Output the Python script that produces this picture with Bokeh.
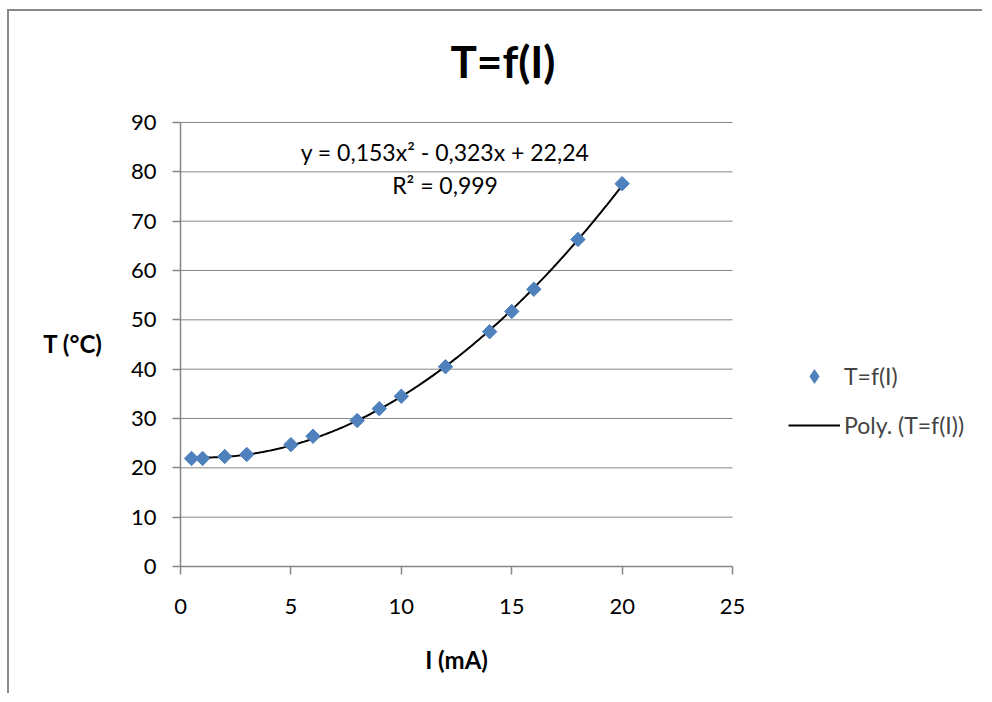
import numpy as np
from bokeh.plotting import figure
from bokeh.models import Range1d, Legend, LegendItem, FixedTicker, Label
from bokeh.embed import file_html
from bokeh.resources import INLINE

# Data
current_mA = [0.5, 1, 2, 3, 5, 6, 8, 9, 10, 12, 14, 15, 16, 18, 20]
temp_C = [21.9, 21.9, 22.3, 22.7, 24.7, 26.4, 29.6, 32.0, 34.5, 40.5, 47.6, 51.7, 56.2, 66.3, 77.6]
x_ticks = [0, 5, 10, 15, 20, 25]
y_ticks = [0, 10, 20, 30, 40, 50, 60, 70, 80, 90]
title_text = "T=f(I)"
x_title = "I (mA)"
y_title = "T (\u00b0C)"
series_name = "T=f(I)"
trend_name = "Poly. (T=f(I))"
eq_text = "y = 0,153x\u00b2 - 0,323x + 22,24"
r2_text = "R\u00b2 = 0,999"

FONT = "Lato"
GRID = "#868686"
BLUE = "#4F81BD"

# Polynomial (order 2) trend line fitted to the data
coef = np.polyfit(current_mA, temp_C, 2)
fit_x = np.linspace(min(current_mA), max(current_mA), 200)
fit_y = np.polyval(coef, fit_x)

# The frame covers the whole chart area so that title, axis titles and legend
# (annotations) are visible; axes sit at x=0 / y=0 and are bounded to the plot area.
p = figure(width=975, height=684, output_backend="svg", toolbar_location=None,
           x_range=Range1d(-7.745, 36.41), y_range=Range1d(-26.15, 112.5),
           min_border_left=0, min_border_right=0, min_border_top=0, min_border_bottom=0)
p.styles = {"border-left": "2px solid #898989", "border-top": "2px solid #898989",
            "margin-left": "7px", "margin-top": "9px"}
p.outline_line_color = None
p.background_fill_color = "white"
p.border_fill_color = "white"

# Axes
for ax in (p.xaxis[0], p.yaxis[0]):
    ax.fixed_location = 0
    ax.axis_line_color = GRID
    ax.axis_line_width = 1.5
    ax.major_tick_line_color = GRID
    ax.major_tick_line_width = 1.5
    ax.major_tick_out = 8
    ax.major_tick_in = 0
    ax.minor_tick_line_color = None
    ax.major_label_text_font = FONT
    ax.major_label_text_font_size = "22px"
    ax.major_label_text_color = "black"

p.xaxis.ticker = FixedTicker(ticks=x_ticks)
p.yaxis.ticker = FixedTicker(ticks=y_ticks)
p.xaxis.bounds = (x_ticks[0], x_ticks[-1])
p.yaxis.bounds = (y_ticks[0], y_ticks[-1])
p.xaxis.major_label_standoff = 25
p.yaxis.major_label_standoff = 16

p.xgrid.grid_line_color = None
p.ygrid.grid_line_color = None

# Horizontal gridlines, limited to the plot area (0-25)
p.segment(x0=x_ticks[0], x1=x_ticks[-1], y0=y_ticks, y1=y_ticks,
          line_color=GRID, line_width=1)

# Trend line and data points
trend = p.line(fit_x, fit_y, line_color="black", line_width=2)
pts = p.scatter(current_mA, temp_C, marker="square", size=10.2, angle=np.pi / 4,
                fill_color=BLUE, line_color=BLUE)
# legend sample for the series (diamond marker)
pts_legend = p.scatter(current_mA, temp_C, marker="diamond", size=14,
                       fill_color=BLUE, line_color=BLUE, visible=False)

# Axis titles
p.add_layout(Label(x=(x_ticks[0] + x_ticks[-1]) / 2, y=-18.85, text=x_title,
                   text_align="center", text_baseline="alphabetic", text_font=FONT,
                   text_font_size="24px", text_font_style="bold", text_color="black"))
p.add_layout(Label(x=-3.53, y=45.2, text=y_title,
                   text_align="right", text_baseline="alphabetic", text_font=FONT,
                   text_font_size="24px", text_font_style="bold", text_color="black"))

# Title
p.add_layout(Label(x=14.6, y=102.5, text=title_text, text_align="center",
                   text_baseline="alphabetic", text_font=FONT,
                   text_font_size="44px", text_font_style="bold", text_color="black"))

# Trend line equation
p.add_layout(Label(x=11.98, y=84.1, text=eq_text, text_align="center",
                   text_baseline="alphabetic", text_font=FONT,
                   text_font_size="23px", text_color="black"))
p.add_layout(Label(x=11.98, y=77.4, text=r2_text, text_align="center",
                   text_baseline="alphabetic", text_font=FONT,
                   text_font_size="23px", text_color="black"))

legend = Legend(items=[LegendItem(label=series_name, renderers=[pts_legend]),
                       LegendItem(label=trend_name, renderers=[trend])],
                location=(779, 253), orientation="vertical",
                glyph_width=52, glyph_height=34, label_height=20,
                label_standoff=4, spacing=15, padding=0, margin=0,
                label_text_font=FONT, label_text_font_size="23px",
                inactive_fill_alpha=0,
                border_line_color=None, background_fill_alpha=0)
p.add_layout(legend)

open("out.html", "w").write(file_html(p, INLINE))
